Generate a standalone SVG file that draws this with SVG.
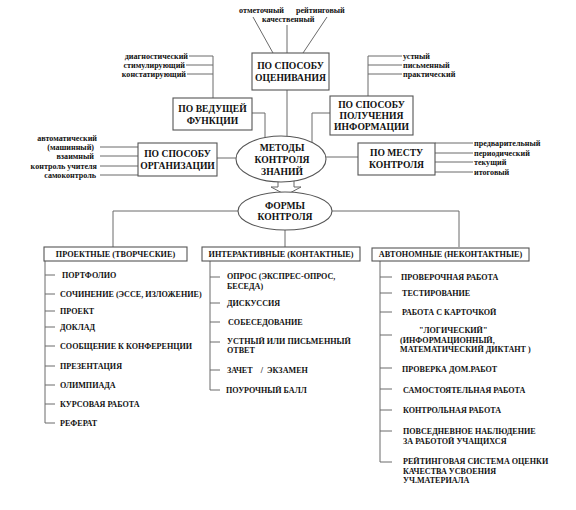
<svg xmlns="http://www.w3.org/2000/svg" width="576" height="510" viewBox="0 0 576 510">
<style>
text{font-family:"Liberation Serif","Times New Roman",serif;font-weight:bold;fill:#111}
.s{font-size:8.1px}
.b{font-size:9.6px;text-anchor:middle}
.m{font-size:8.1px}
.c{font-size:8.2px;text-anchor:middle}
.e{text-anchor:end}
.box{fill:#fff;stroke:#555;stroke-width:1.1}
.ln{fill:none;stroke:#6a6a6a;stroke-width:1}
</style>
<rect width="576" height="510" fill="#fff"/>
<g id="connectors">
<path class="ln" d="M253 17L273 53M287 25V53M327 17L303 53"/>
<path class="ln" d="M189 56H213M186 65H213M187 74H213M213 56V98"/>
<path class="ln" d="M368 56H402M368 65H402M368 74H402M368 56V96"/>
<path class="ln" d="M287 90V136M252 113H265V138M330 113H312V142"/>
<path class="ln" d="M100 147H138M100 156H138M100 166H138M100 175H138M217 158H236"/>
<path class="ln" d="M326 157H358M435 143H473M435 153H473M435 162H473M435 172H473"/>
<path class="ln" d="M238 211H113V247M332 211H459V247M285 230V247"/>
<path class="ln" d="M45 261V423M45 275H55M45 294H55M45 311H55M45 327H55M45 346H55M45 366H55M45 385H55M45 404H55M45 423H55"/>
<path class="ln" d="M210 261V390M210 277H220M210 303H220M210 322H220M210 342H220M210 370H220M210 390H220"/>
<path class="ln" d="M380 261V462M380 277H392M380 293H392M380 312H392M380 335H392M380 368H392M380 389H392M380 410H392M380 431H392M380 462H392"/>
<polygon points="278,176 294,176 294,187 301,187 286,195 271,187 278,187" fill="#fff" stroke="#666" stroke-width="1"/>
</g>
<g id="top-labels">
<text class="s" x="239" y="13">отметочный</text>
<text class="s" x="296" y="13">рейтинговый</text>
<text class="s" x="262" y="21.5">качественный</text>
</g>
<g id="n-ocenivaniya">
<rect class="box" x="252" y="53" width="77" height="37"/>
<text class="b" x="290.5" y="68.5">ПО СПОСОБУ</text>
<text class="b" x="290.5" y="80.5">ОЦЕНИВАНИЯ</text>
</g>
<g id="n-vedushchey">
<rect class="box" x="173" y="98" width="79" height="32"/>
<text class="b" x="212.5" y="111.5">ПО ВЕДУЩЕЙ</text>
<text class="b" x="212.5" y="123.5">ФУНКЦИИ</text>
<text class="s e" x="188" y="58.5">диагностический</text>
<text class="s e" x="185" y="67.5">стимулирующий</text>
<text class="s e" x="186" y="76.5">констатирующий</text>
</g>
<g id="n-polucheniya">
<rect class="box" x="330" y="96" width="83" height="39"/>
<text class="b" x="371.5" y="107.5">ПО СПОСОБУ</text>
<text class="b" x="371.5" y="118.5">ПОЛУЧЕНИЯ</text>
<text class="b" x="371.5" y="129.5">ИНФОРМАЦИИ</text>
<text class="s" x="403" y="58.5">устный</text>
<text class="s" x="403" y="67.5">письменный</text>
<text class="s" x="403" y="76.5">практический</text>
</g>
<g id="n-organizacii">
<rect class="box" x="138" y="143" width="79" height="33"/>
<text class="b" x="177.5" y="156.5">ПО СПОСОБУ</text>
<text class="b" x="177.5" y="168.5">ОРГАНИЗАЦИИ</text>
<text class="s e" x="97" y="140.5">автоматический</text>
<text class="s e" x="94" y="149.5">(машинный)</text>
<text class="s e" x="94" y="158.5">взаимный</text>
<text class="s e" x="97" y="168.5">контроль учителя</text>
<text class="s e" x="96" y="177.5">самоконтроль</text>
</g>
<g id="n-mestu">
<rect class="box" x="358" y="143" width="77" height="32"/>
<text class="b" x="396.5" y="156">ПО МЕСТУ</text>
<text class="b" x="396.5" y="167.5">КОНТРОЛЯ</text>
<text class="s" x="474" y="145.5">предварительный</text>
<text class="s" x="474" y="155.5">периодический</text>
<text class="s" x="474" y="164.5">текущий</text>
<text class="s" x="474" y="174.5">итоговый</text>
</g>
<g id="n-metody">
<ellipse class="box" cx="281" cy="159" rx="45" ry="23"/>
<text class="b" x="282" y="150.5">МЕТОДЫ</text>
<text class="b" x="282" y="162.5">КОНТРОЛЯ</text>
<text class="b" x="282" y="174.5">ЗНАНИЙ</text>
</g>
<g id="n-formy">
<ellipse class="box" cx="285" cy="211" rx="47" ry="19"/>
<text class="b" x="285" y="208.5">ФОРМЫ</text>
<text class="b" x="285" y="219.5">КОНТРОЛЯ</text>
</g>
<g id="n-proektnye">
<rect class="box" x="44" y="247" width="143" height="14"/>
<text class="c" x="115.5" y="257">ПРОЕКТНЫЕ (ТВОРЧЕСКИЕ)</text>
<text class="m" x="62" y="277.5">ПОРТФОЛИО</text>
<text class="m" x="60" y="296.5">СОЧИНЕНИЕ (ЭССЕ, ИЗЛОЖЕНИЕ)</text>
<text class="m" x="60" y="313.5">ПРОЕКТ</text>
<text class="m" x="60" y="329.5">ДОКЛАД</text>
<text class="m" x="60" y="348.5">СООБЩЕНИЕ К КОНФЕРЕНЦИИ</text>
<text class="m" x="60" y="368.5">ПРЕЗЕНТАЦИЯ</text>
<text class="m" x="60" y="387.5">ОЛИМПИАДА</text>
<text class="m" x="60" y="406.5">КУРСОВАЯ РАБОТА</text>
<text class="m" x="60" y="425.5">РЕФЕРАТ</text>
</g>
<g id="n-interaktivnye">
<rect class="box" x="202" y="247" width="158" height="14"/>
<text class="c" x="281" y="257">ИНТЕРАКТИВНЫЕ (КОНТАКТНЫЕ)</text>
<text class="m" x="227" y="278.5">ОПРОС (ЭКСПРЕС-ОПРОС,</text>
<text class="m" x="227" y="288.5">БЕСЕДА)</text>
<text class="m" x="227" y="305.5">ДИСКУССИЯ</text>
<text class="m" x="228" y="324.5">СОБЕСЕДОВАНИЕ</text>
<text class="m" x="227" y="343.5">УСТНЫЙ ИЛИ ПИСЬМЕННЫЙ</text>
<text class="m" x="227" y="353">ОТВЕТ</text>
<text class="m" x="227" y="372.5" xml:space="preserve">ЗАЧЕТ    /  ЭКЗАМЕН</text>
<text class="m" x="226" y="392.5">ПОУРОЧНЫЙ БАЛЛ</text>
</g>
<g id="n-avtonomnye">
<rect class="box" x="372" y="248" width="157" height="13"/>
<text class="c" x="450.5" y="257">АВТОНОМНЫЕ (НЕКОНТАКТНЫЕ)</text>
<text class="m" x="401" y="279.5">ПРОВЕРОЧНАЯ РАБОТА</text>
<text class="m" x="402" y="295.5">ТЕСТИРОВАНИЕ</text>
<text class="m" x="402" y="314.5">РАБОТА С КАРТОЧКОЙ</text>
<text class="m" x="419" y="332.5">"ЛОГИЧЕСКИЙ"</text>
<text class="m" x="400" y="342.5">(ИНФОРМАЦИОННЫЙ,</text>
<text class="m" x="400" y="351.5">МАТЕМАТИЧЕСКИЙ ДИКТАНТ )</text>
<text class="m" x="402" y="371.5">ПРОВЕРКА ДОМ.РАБОТ</text>
<text class="m" x="403" y="392.5">САМОСТОЯТЕЛЬНАЯ РАБОТА</text>
<text class="m" x="403" y="412.5">КОНТРОЛЬНАЯ РАБОТА</text>
<text class="m" x="403" y="433.5">ПОВСЕДНЕВНОЕ НАБЛЮДЕНИЕ</text>
<text class="m" x="403" y="443.5">ЗА РАБОТОЙ УЧАЩИХСЯ</text>
<text class="m" x="403" y="463.5">РЕЙТИНГОВАЯ СИСТЕМА ОЦЕНКИ</text>
<text class="m" x="403" y="473.5">КАЧЕСТВА УСВОЕНИЯ</text>
<text class="m" x="403" y="483">УЧ.МАТЕРИАЛА</text>
</g>
</svg>
